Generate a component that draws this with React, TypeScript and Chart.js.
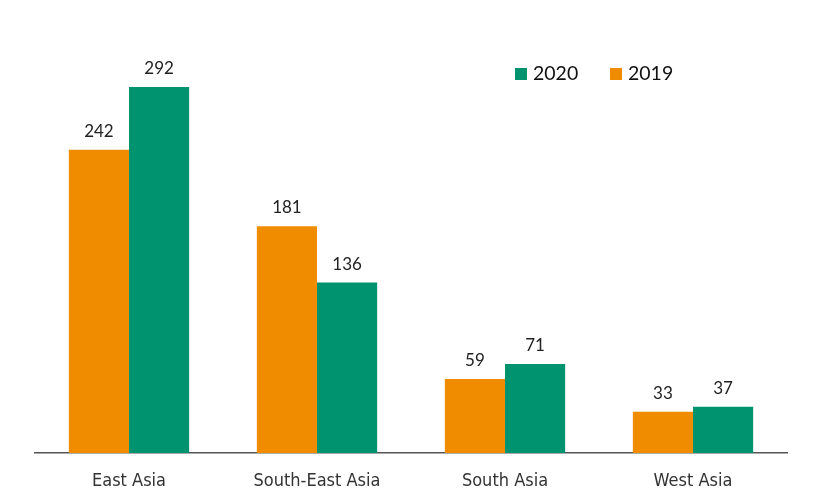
import React, { useEffect, useRef } from "react";
import { Chart, registerables } from "chart.js";

Chart.register(...registerables);

const categories = ["East Asia", "South-East Asia", "South Asia", "West Asia"];
const values2019 = [242, 181, 59, 33];
const values2020 = [292, 136, 71, 37];
const seriesNames = ["2019", "2020"];

const ORANGE = "#EF8C00";
const GREEN = "#00936F";

const labelPlugin = {
  id: "barLabels",
  afterDatasetsDraw(chart: any) {
    const ctx = chart.ctx;
    ctx.save();
    ctx.font = "17px Lato, 'Open Sans', sans-serif";
    ctx.fillStyle = "#222";
    ctx.textAlign = "center";
    ctx.textBaseline = "bottom";
    chart.data.datasets.forEach((ds: any, di: number) => {
      const meta = chart.getDatasetMeta(di);
      meta.data.forEach((bar: any, i: number) => {
        ctx.fillText(String(ds.data[i]), bar.x, bar.y - 10);
      });
    });
    ctx.restore();
  },
};

const legendPlugin = {
  id: "customLegend",
  afterDraw(chart: any) {
    const ctx = chart.ctx;
    ctx.save();
    ctx.font = "19.5px Lato, 'Open Sans', sans-serif";
    ctx.textBaseline = "middle";
    ctx.textAlign = "left";
    const items = [
      { label: seriesNames[1], color: GREEN, x: 515 },
      { label: seriesNames[0], color: ORANGE, x: 610 },
    ];
    const y = 74;
    items.forEach((it) => {
      ctx.fillStyle = it.color;
      ctx.fillRect(it.x, y - 6, 12, 12);
      ctx.fillStyle = "#111";
      ctx.fillText(it.label, it.x + 18, y);
    });
    ctx.restore();
  },
};

export default function App() {
  const ref = useRef<HTMLCanvasElement>(null);
  useEffect(() => {
    if (!ref.current) return;
    const chart = new Chart(ref.current, {
      type: "bar",
      data: {
        labels: categories,
        datasets: [
          { label: seriesNames[0], data: values2019, backgroundColor: ORANGE },
          { label: seriesNames[1], data: values2020, backgroundColor: GREEN },
        ],
      },
      options: {
        animation: false,
        responsive: false,
        maintainAspectRatio: false,
        layout: { padding: { left: 35, right: 37, top: 77, bottom: 0 } },
        plugins: { legend: { display: false }, tooltip: { enabled: false } },
        datasets: { bar: { categoryPercentage: 0.64, barPercentage: 1 } },
        scales: {
          x: {
            grid: { display: false, drawTicks: false },
            border: { display: true, color: "#555", width: 1.5 },
            afterFit: (s: any) => {
              s.height = 44;
            },
            ticks: {
              color: "#333",
              padding: 18,
              font: { family: "'Liberation Sans Narrow', 'Arial Narrow', 'DejaVu Sans Condensed', sans-serif", size: 18 },
            },
          },
          y: { display: false, min: 0, max: 300 },
        },
      },
      plugins: [labelPlugin, legendPlugin],
    });
    return () => chart.destroy();
  }, []);
  return (
    <div style={{ position: "fixed", left: 0, top: 0, width: 824, height: 497, background: "#fff" }}>
      <canvas ref={ref} width={824} height={497} style={{ display: "block" }} />
    </div>
  );
}
